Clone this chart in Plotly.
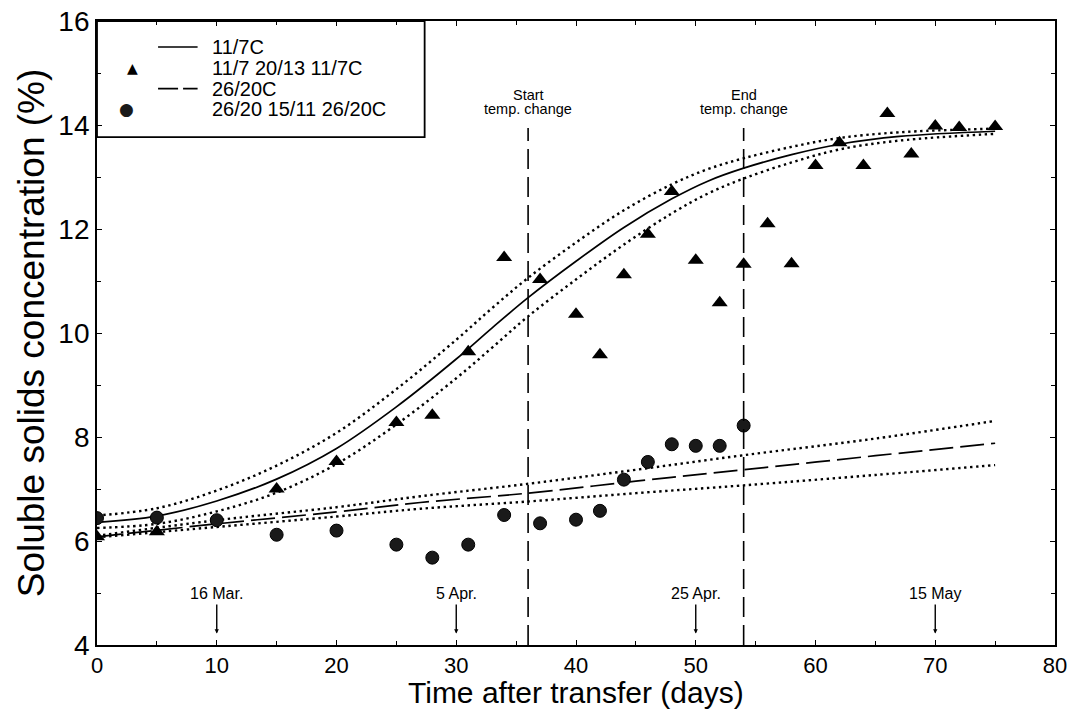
import plotly.graph_objects as go

# ---------------- data ----------------
# fitted curve 11/7C and its confidence band
fit_cold_x = [0, 5, 10, 15, 20, 25, 30, 33, 36, 40, 44, 48, 51, 54, 58, 62, 67, 75]
fit_cold_y = [6.36, 6.48, 6.77, 7.19, 7.78, 8.58, 9.5, 10.1, 10.68, 11.38, 12.03, 12.58, 12.92, 13.17, 13.43, 13.63, 13.78, 13.88]
fit_cold_hi = [6.49, 6.63, 6.97, 7.45, 8.08, 8.92, 9.87, 10.48, 11.06, 11.74, 12.36, 12.86, 13.15, 13.36, 13.58, 13.75, 13.86, 13.93]
fit_cold_lo = [6.25, 6.33, 6.57, 6.93, 7.48, 8.24, 9.13, 9.72, 10.32, 11.03, 11.7, 12.3, 12.68, 12.97, 13.28, 13.53, 13.7, 13.83]

# fitted curve 26/20C and its confidence band
fit_warm_x = [0, 10, 20, 27, 36, 45, 54, 65, 75]
fit_warm_y = [6.08, 6.33, 6.56, 6.74, 6.92, 7.15, 7.37, 7.64, 7.88]
fit_warm_hi = [6.1, 6.4, 6.65, 6.86, 7.1, 7.37, 7.65, 7.97, 8.31]
fit_warm_lo = [6.07, 6.27, 6.47, 6.62, 6.76, 6.92, 7.07, 7.27, 7.46]

# observations 11/7 20/13 11/7C (triangles)
tri_x = [0, 5, 15, 20, 25, 28, 31, 34, 37, 40, 42, 44, 46, 48, 50, 52, 54, 56, 58, 60, 62, 64, 66, 68, 70, 72, 75]
tri_y = [6.08, 6.18, 7.0, 7.53, 8.28, 8.42, 9.64, 11.45, 11.03, 10.36, 9.58, 11.12, 11.9, 12.72, 11.4, 10.58, 11.32,
         12.1, 11.33, 13.22, 13.66, 13.22, 14.22, 13.44, 13.98, 13.95, 13.97]

# observations 26/20 15/11 26/20C (circles)
cir_x = [0, 5, 10, 15, 20, 25, 28, 31, 34, 37, 40, 42, 44, 46, 48, 50, 52, 54]
cir_y = [6.44, 6.45, 6.4, 6.12, 6.2, 5.93, 5.68, 5.93, 6.5, 6.34, 6.41, 6.58, 7.18, 7.52, 7.86, 7.83, 7.83, 8.22]

temp_change_days = [36, 54]
temp_change_top = ["Start", "End"]
temp_change_bottom = ["temp. change", "temp. change"]
date_days = [10, 30, 50, 70]
date_labels = ["16 Mar.", "5 Apr.", "25 Apr.", "15 May"]

legend_names = ["11/7C", "11/7 20/13 11/7C", "26/20C", "26/20 15/11 26/20C"]

x_ticks = [0, 10, 20, 30, 40, 50, 60, 70, 80]
y_ticks = [4, 6, 8, 10, 12, 14, 16]

FONT = "Liberation Sans, Arial, Helvetica, sans-serif"

fig = go.Figure()

dot = dict(color="black", width=2.4, dash="2.4px,3.6px")
for xs, ys in [(fit_cold_x, fit_cold_hi), (fit_cold_x, fit_cold_lo),
               (fit_warm_x, fit_warm_hi), (fit_warm_x, fit_warm_lo)]:
    fig.add_trace(go.Scatter(x=xs, y=ys, mode="lines", line=dict(shape="spline", **dot),
                             showlegend=False, hoverinfo="skip"))

fig.add_trace(go.Scatter(x=fit_cold_x, y=fit_cold_y, mode="lines", name=legend_names[0],
                         line=dict(color="black", width=1.7, shape="spline")))
fig.add_trace(go.Scatter(x=tri_x, y=tri_y, mode="markers", name=legend_names[1],
                         marker=dict(symbol="triangle-up", size=14, color="black")))
fig.add_trace(go.Scatter(x=fit_warm_x, y=fit_warm_y, mode="lines", name=legend_names[2],
                         line=dict(color="black", width=1.7, shape="spline", dash="24px,7px")))
fig.add_trace(go.Scatter(x=cir_x, y=cir_y, mode="markers", name=legend_names[3],
                         marker=dict(symbol="circle", size=13, color="#1a1a1a",
                                     line=dict(color="black", width=1))))

# vertical lines marking the temperature change
for d, top, bottom in zip(temp_change_days, temp_change_top, temp_change_bottom):
    fig.add_trace(go.Scatter(x=[d, d], y=[4, 13.94], mode="lines",
                             line=dict(color="black", width=1.6, dash="20px,8px"),
                             showlegend=False, hoverinfo="skip"))
    fig.add_annotation(x=d, y=14.57, text=top, showarrow=False,
                       font=dict(family=FONT, size=14.5, color="black"))
    fig.add_annotation(x=d, y=14.3, text=bottom, showarrow=False,
                       font=dict(family=FONT, size=14.5, color="black"))

# calendar date arrows
for d, lab in zip(date_days, date_labels):
    fig.add_annotation(x=d, y=4.22, ax=0, ay=-40, text=lab, showarrow=True,
                       arrowhead=2, arrowsize=0.6, arrowwidth=1.4, arrowcolor="black",
                       standoff=0, startstandoff=1,
                       font=dict(family=FONT, size=16, color="black"))

# ---- legend (drawn manually to match the original framed key) ----
fig.add_shape(type="rect", xref="paper", yref="paper", x0=0, x1=0.342, y0=0.814, y1=1,
              line=dict(color="black", width=1.8), fillcolor="white", layer="below")
row_y = [15.5, 15.1, 14.7, 14.31]
fig.add_shape(type="line", x0=5.1, x1=8.4, y0=row_y[0], y1=row_y[0],
              line=dict(color="black", width=1.7))
fig.add_shape(type="line", x0=5.1, x1=8.4, y0=row_y[2], y1=row_y[2],
              line=dict(color="black", width=1.7, dash="20px,5px"))
fig.add_annotation(x=3.0, y=row_y[1], text="\u25B2", showarrow=False,
                   font=dict(family="DejaVu Sans", size=14, color="black"))
fig.add_annotation(x=2.5, y=row_y[3], text="\u25CF", showarrow=False,
                   font=dict(family="DejaVu Sans", size=17, color="#1a1a1a"))
for name, yy in zip(legend_names, row_y):
    fig.add_annotation(x=9.44, y=yy, text=name, showarrow=False, xanchor="left",
                       font=dict(family=FONT, size=20, color="black"))

# x-axis title placed explicitly just under the tick labels
fig.add_annotation(xref="paper", yref="paper", x=0.5, y=-0.1045, yanchor="bottom",
                   text="Time after transfer (days)", showarrow=False, borderpad=0,
                   font=dict(family=FONT, size=30, color="black"))

axis_common = dict(showline=True, linecolor="black", linewidth=1.8, mirror="ticks",
                   ticks="inside", ticklen=5, tickwidth=1.2, tickcolor="black",
                   showgrid=False, zeroline=False, automargin=False)

fig.update_layout(
    width=1078, height=712,
    margin=dict(l=97, r=23, t=21, b=67),
    paper_bgcolor="white", plot_bgcolor="white",
    font=dict(family=FONT, color="black"),
    showlegend=False,
    xaxis=dict(range=[0, 80], tickvals=x_ticks, ticktext=[str(v) for v in x_ticks],
               minor=dict(dtick=5, ticks="inside", ticklen=4, tickcolor="black"),
               tickfont=dict(family=FONT, size=22),
               **axis_common),
    yaxis=dict(range=[4, 16], tickvals=y_ticks, ticktext=[str(v) for v in y_ticks],
               minor=dict(dtick=1, ticks="inside", ticklen=4, tickcolor="black"),
               tickfont=dict(family=FONT, size=28),
               title=dict(text="Soluble solids concentration (%)", font=dict(family=FONT, size=37), standoff=2),
               **axis_common),
)

fig.write_html("out.html")
